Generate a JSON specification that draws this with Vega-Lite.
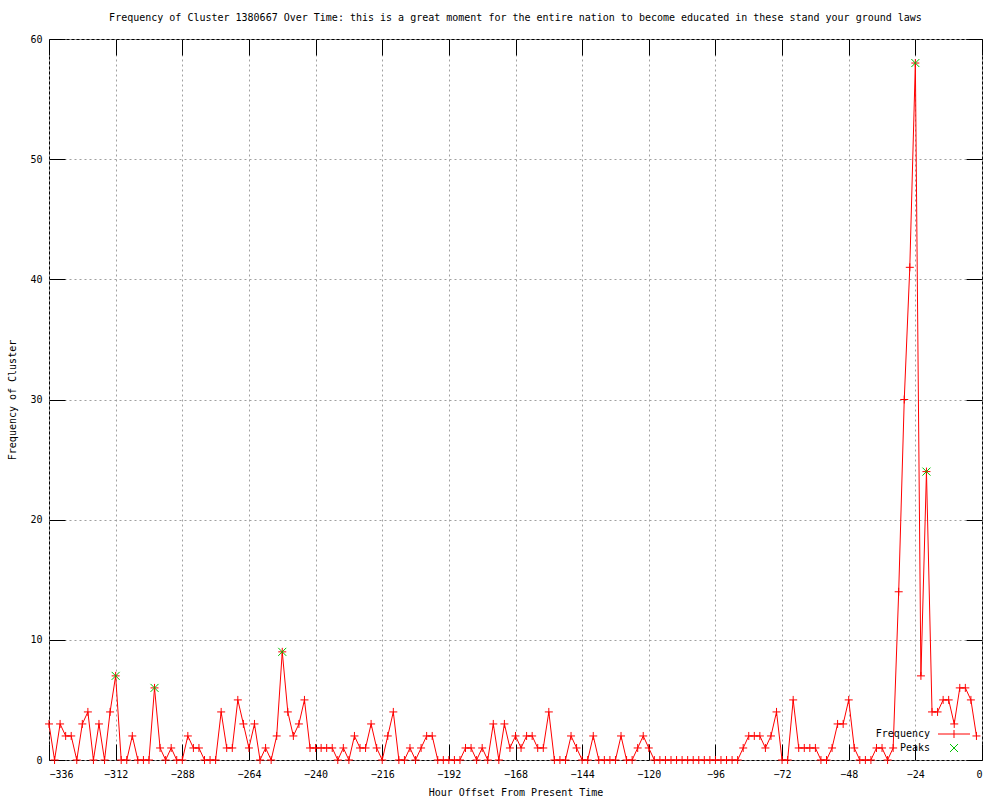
{
  "$schema": "https://vega.github.io/schema/vega-lite/v6.json",
  "width": 933,
  "height": 721,
  "autosize": {"type": "none"},
  "padding": {"left": 49, "top": 39, "right": 18, "bottom": 40},
  "background": "white",
  "title": {"text": "Frequency of Cluster 1380667 Over Time: this is a great moment for the entire nation to become educated in these stand your ground laws", "font": "DejaVu Sans Mono", "fontSize": 10, "fontWeight": "normal", "color": "black", "anchor": "middle", "offset": 11},
  "datasets": {
    "freq": [
      {"h": -336, "v": 3}, {"h": -334, "v": 0}, {"h": -332, "v": 3}, {"h": -330, "v": 2}, {"h": -328, "v": 2}, {"h": -326, "v": 0}, {"h": -324, "v": 3}, {"h": -322, "v": 4}, {"h": -320, "v": 0}, {"h": -318, "v": 3},
      {"h": -316, "v": 0}, {"h": -314, "v": 4}, {"h": -312, "v": 7}, {"h": -310, "v": 0}, {"h": -308, "v": 0}, {"h": -306, "v": 2}, {"h": -304, "v": 0}, {"h": -302, "v": 0}, {"h": -300, "v": 0}, {"h": -298, "v": 6},
      {"h": -296, "v": 1}, {"h": -294, "v": 0}, {"h": -292, "v": 1}, {"h": -290, "v": 0}, {"h": -288, "v": 0}, {"h": -286, "v": 2}, {"h": -284, "v": 1}, {"h": -282, "v": 1}, {"h": -280, "v": 0}, {"h": -278, "v": 0},
      {"h": -276, "v": 0}, {"h": -274, "v": 4}, {"h": -272, "v": 1}, {"h": -270, "v": 1}, {"h": -268, "v": 5}, {"h": -266, "v": 3}, {"h": -264, "v": 1}, {"h": -262, "v": 3}, {"h": -260, "v": 0}, {"h": -258, "v": 1},
      {"h": -256, "v": 0}, {"h": -254, "v": 2}, {"h": -252, "v": 9}, {"h": -250, "v": 4}, {"h": -248, "v": 2}, {"h": -246, "v": 3}, {"h": -244, "v": 5}, {"h": -242, "v": 1}, {"h": -240, "v": 1}, {"h": -238, "v": 1},
      {"h": -236, "v": 1}, {"h": -234, "v": 1}, {"h": -232, "v": 0}, {"h": -230, "v": 1}, {"h": -228, "v": 0}, {"h": -226, "v": 2}, {"h": -224, "v": 1}, {"h": -222, "v": 1}, {"h": -220, "v": 3}, {"h": -218, "v": 1},
      {"h": -216, "v": 0}, {"h": -214, "v": 2}, {"h": -212, "v": 4}, {"h": -210, "v": 0}, {"h": -208, "v": 0}, {"h": -206, "v": 1}, {"h": -204, "v": 0}, {"h": -202, "v": 1}, {"h": -200, "v": 2}, {"h": -198, "v": 2},
      {"h": -196, "v": 0}, {"h": -194, "v": 0}, {"h": -192, "v": 0}, {"h": -190, "v": 0}, {"h": -188, "v": 0}, {"h": -186, "v": 1}, {"h": -184, "v": 1}, {"h": -182, "v": 0}, {"h": -180, "v": 1}, {"h": -178, "v": 0},
      {"h": -176, "v": 3}, {"h": -174, "v": 0}, {"h": -172, "v": 3}, {"h": -170, "v": 1}, {"h": -168, "v": 2}, {"h": -166, "v": 1}, {"h": -164, "v": 2}, {"h": -162, "v": 2}, {"h": -160, "v": 1}, {"h": -158, "v": 1},
      {"h": -156, "v": 4}, {"h": -154, "v": 0}, {"h": -152, "v": 0}, {"h": -150, "v": 0}, {"h": -148, "v": 2}, {"h": -146, "v": 1}, {"h": -144, "v": 0}, {"h": -142, "v": 0}, {"h": -140, "v": 2}, {"h": -138, "v": 0},
      {"h": -136, "v": 0}, {"h": -134, "v": 0}, {"h": -132, "v": 0}, {"h": -130, "v": 2}, {"h": -128, "v": 0}, {"h": -126, "v": 0}, {"h": -124, "v": 1}, {"h": -122, "v": 2}, {"h": -120, "v": 1}, {"h": -118, "v": 0},
      {"h": -116, "v": 0}, {"h": -114, "v": 0}, {"h": -112, "v": 0}, {"h": -110, "v": 0}, {"h": -108, "v": 0}, {"h": -106, "v": 0}, {"h": -104, "v": 0}, {"h": -102, "v": 0}, {"h": -100, "v": 0}, {"h": -98, "v": 0},
      {"h": -96, "v": 0}, {"h": -94, "v": 0}, {"h": -92, "v": 0}, {"h": -90, "v": 0}, {"h": -88, "v": 0}, {"h": -86, "v": 1}, {"h": -84, "v": 2}, {"h": -82, "v": 2}, {"h": -80, "v": 2}, {"h": -78, "v": 1},
      {"h": -76, "v": 2}, {"h": -74, "v": 4}, {"h": -72, "v": 0}, {"h": -70, "v": 0}, {"h": -68, "v": 5}, {"h": -66, "v": 1}, {"h": -64, "v": 1}, {"h": -62, "v": 1}, {"h": -60, "v": 1}, {"h": -58, "v": 0},
      {"h": -56, "v": 0}, {"h": -54, "v": 1}, {"h": -52, "v": 3}, {"h": -50, "v": 3}, {"h": -48, "v": 5}, {"h": -46, "v": 1}, {"h": -44, "v": 0}, {"h": -42, "v": 0}, {"h": -40, "v": 0}, {"h": -38, "v": 1},
      {"h": -36, "v": 1}, {"h": -34, "v": 0}, {"h": -32, "v": 1}, {"h": -30, "v": 14}, {"h": -28, "v": 30}, {"h": -26, "v": 41}, {"h": -24, "v": 58}, {"h": -22, "v": 7}, {"h": -20, "v": 24}, {"h": -18, "v": 4},
      {"h": -16, "v": 4}, {"h": -14, "v": 5}, {"h": -12, "v": 5}, {"h": -10, "v": 3}, {"h": -8, "v": 6}, {"h": -6, "v": 6}, {"h": -4, "v": 5}, {"h": -2, "v": 2}
    ],
    "peaks": [
      {"h": -312, "v": 7, "series": "Peaks"},
      {"h": -298, "v": 6, "series": "Peaks"},
      {"h": -252, "v": 9, "series": "Peaks"},
      {"h": -24, "v": 58, "series": "Peaks"},
      {"h": -20, "v": 24, "series": "Peaks"}
    ]
  },
  "config": {
    "view": {"stroke": "black", "strokeWidth": 1},
    "axis": {
      "labelFont": "DejaVu Sans Mono",
      "labelFontSize": 10,
      "labelColor": "black",
      "titleFont": "DejaVu Sans Mono",
      "titleFontSize": 10,
      "titleFontWeight": "normal",
      "titleColor": "black",
      "tickColor": "black",
      "tickWidth": 1,
      "domain": false,
      "gridColor": "#a0a0a0",
      "gridDash": [2, 3],
      "gridWidth": 1,
      "gridOpacity": 1
    },
    "legend": {
      "labelFont": "DejaVu Sans Mono",
      "labelFontSize": 10,
      "labelColor": "black"
    }
  },
  "resolve": {"axis": {"x": "independent", "y": "independent"}},
  "layer": [
    {
      "data": {"name": "freq"},
      "mark": {"type": "line", "color": "#ff0000", "strokeWidth": 1},
      "encoding": {
        "x": {"field": "h", "type": "quantitative", "scale": {"domain": [-336, 0], "nice": false, "zero": false},
              "axis": {"orient": "bottom", "values": [-336, -312, -288, -264, -240, -216, -192, -168, -144, -120, -96, -72, -48, -24, 0], "format": "d", "grid": true, "tickSize": -16, "labelPadding": 25, "title": "Hour Offset From Present Time", "titlePadding": 8}},
        "y": {"field": "v", "type": "quantitative", "scale": {"domain": [0, 60], "nice": false},
              "axis": {"orient": "left", "values": [0, 10, 20, 30, 40, 50, 60], "format": "d", "grid": true, "tickSize": -16, "labelPadding": 23, "title": "Frequency of Cluster", "titlePadding": 12}}
      }
    },
    {
      "data": {"name": "freq"},
      "mark": {"type": "point", "shape": "M-1,0H1M0,-1V1", "filled": false, "stroke": "#ff0000", "size": 64, "strokeWidth": 1, "opacity": 1},
      "encoding": {
        "x": {"field": "h", "type": "quantitative", "axis": null},
        "y": {"field": "v", "type": "quantitative", "axis": null}
      }
    },
    {
      "data": {"name": "peaks"},
      "mark": {"type": "point", "filled": false, "size": 64, "strokeWidth": 1, "opacity": 1},
      "encoding": {
        "x": {"field": "h", "type": "quantitative", "axis": null},
        "y": {"field": "v", "type": "quantitative", "axis": null},
        "color": {"field": "series", "type": "nominal", "scale": {"domain": ["Frequency", "Peaks"], "range": ["#ff0000", "#00c000"]},
                  "legend": {"title": null, "orient": "none", "legendX": 900, "legendY": 690, "padding": 0, "rowPadding": 2, "labelAlign": "right", "labelOffset": -29, "symbolSize": 64, "symbolStrokeWidth": 1}},
        "shape": {"field": "series", "type": "nominal", "scale": {"domain": ["Frequency", "Peaks"], "range": ["M-4,0H4M0,-1V1", "M-1,-1L1,1M-1,1L1,-1"]},
                  "legend": {"title": null, "orient": "none", "legendX": 900, "legendY": 690, "padding": 0, "rowPadding": 2, "labelAlign": "right", "labelOffset": -29, "symbolSize": 64, "symbolStrokeWidth": 1}}
      }
    },
    {
      "data": {"name": "freq"},
      "mark": {"type": "point", "opacity": 0},
      "encoding": {
        "x": {"field": "h", "type": "quantitative",
              "axis": {"orient": "top", "values": [-336, -312, -288, -264, -240, -216, -192, -168, -144, -120, -96, -72, -48, -24, 0], "labels": false, "grid": false, "tickSize": -16, "title": null}},
        "y": {"field": "v", "type": "quantitative",
              "axis": {"orient": "right", "values": [0, 10, 20, 30, 40, 50, 60], "labels": false, "grid": false, "tickSize": -16, "title": null}}
      }
    }
  ]
}
